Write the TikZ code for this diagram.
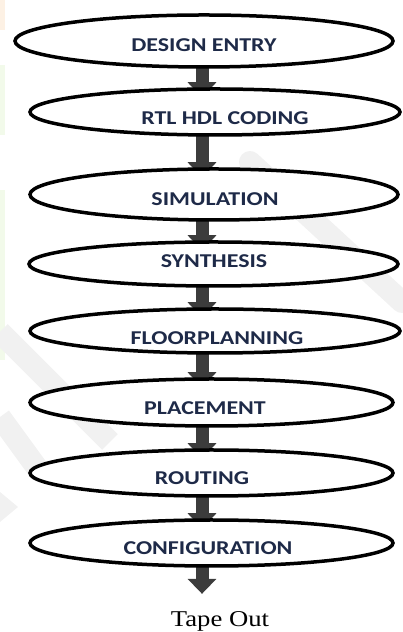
\documentclass[tikz,border=0pt]{standalone}
\usepackage{fontspec}
\usetikzlibrary{shapes.geometric,arrows.meta,backgrounds}
\newfontfamily\stagefont[FakeStretch=1.22]{Carlito}
\newfontfamily\endfont[FakeStretch=1.18]{Liberation Serif}
\definecolor{stageink}{HTML}{1E2A48}
\definecolor{flowgray}{HTML}{3C3C3C}
\definecolor{markgray}{HTML}{F1F1F1}
\definecolor{markgreen}{HTML}{F2FAEA}
\definecolor{markpeach}{HTML}{FDF1E4}
\tikzset{
  stage/.style={ellipse, draw=black, line width=3.5bp, fill=white},
  % ellipse with half-axes #1 and #2 around an empty text box
  axes/.style 2 args={inner xsep=#1/1.41421, inner ysep=#2/1.41421},
  stagelabel/.style={inner sep=0pt, text=stageink, font=\stagefont\bfseries\fontsize{19.6bp}{20bp}\selectfont},
  flow/.style={draw=flowgray, line width=13bp, -{Triangle[width=28bp,length=15bp]}},
}
\begin{document}
\begin{tikzpicture}[x=1bp,y=1bp]
\useasboundingbox (0,0) rectangle (402,632);
% faint watermark in the page background
\fill[markpeach] (0,602) rectangle (5,632);
\fill[markgreen] (0,497) rectangle (5,567);
\fill[markgreen] (0,272) rectangle (5,442);
\draw[markgray, line width=22bp, line cap=round] (250,470) -- (402,330);
\draw[markgray, line width=22bp] (0,300) -- (110,190);
\draw[markgray, line width=22bp] (0,215) -- (40,160);
\fill[markgray] (0,140) -- (18,125) -- (0,110) -- cycle;

% process stages
\node[stage, axes={189bp}{26bp}] (e1) at (204,591) {};
\node[stage, axes={185bp}{23bp}] (e2) at (215,520) {};
\node[stage, axes={184bp}{25.5bp}] (e3) at (214,437.5) {};
\node[stage, axes={184.5bp}{22bp}] (e4) at (213.5,368) {};
\node[stage, axes={185bp}{22bp}] (e5) at (215,301) {};
\node[stage, axes={181.5bp}{23.5bp}] (e6) at (211.5,229.5) {};
\node[stage, axes={181.5bp}{23bp}] (e7) at (211.5,159) {};
\node[stage, axes={181.5bp}{23bp}] (e8) at (211.5,89) {};

\node[stagelabel] (t1) at (204,587) {DESIGN ENTRY};
\node[stagelabel] (t2) at (225,514) {RTL HDL CODING};
\node[stagelabel] (t3) at (215,433) {SIMULATION};
\node[stagelabel] (t4) at (214,371) {SYNTHESIS};
\node[stagelabel] (t5) at (217,294) {FLOORPLANNING};
\node[stagelabel] (t6) at (205,224) {PLACEMENT};
\node[stagelabel] (t7) at (202,154) {ROUTING};
\node[stagelabel] (t8) at (208,84) {CONFIGURATION};

\node[inner sep=0pt, anchor=base, font=\endfont\fontsize{22.6bp}{24bp}\selectfont] (tape) at (220,5) {Tape Out};

% block arrows between stages, behind the ellipses
\coordinate (ax) at (202,0);
\begin{pgfonlayer}{background}
  \foreach \a/\b in {e1/e2,e2/e3,e3/e4,e4/e5,e5/e6,e6/e7,e7/e8}
    \draw[flow, shorten >=-10bp] (\a.center -| ax) -- (\b.north -| ax);
  \draw[flow] (e8.center -| ax) -- ([yshift=18bp]tape.north -| ax);
\end{pgfonlayer}
\end{tikzpicture}
\end{document}
